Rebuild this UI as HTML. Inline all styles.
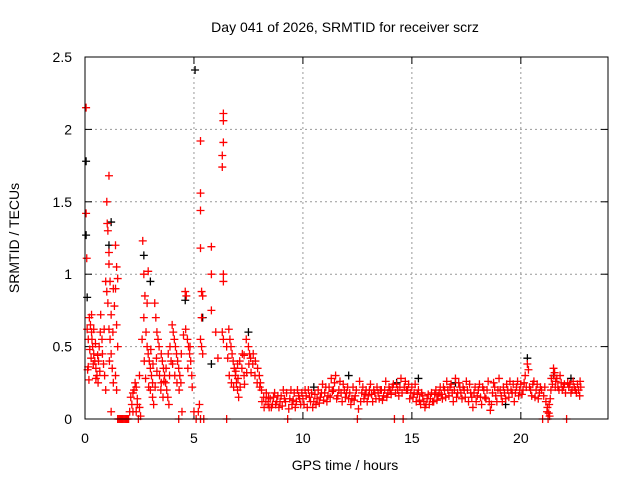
<!DOCTYPE html>
<html><head><meta charset="utf-8"><style>
body{margin:0;background:#fff;font-family:"Liberation Sans",sans-serif}
svg text{font-family:"Liberation Sans",sans-serif;font-size:14px;fill:#000}
</style></head><body>
<svg id="chart" width="640" height="480">
<text x="345" y="32" text-anchor="middle">Day 041 of 2026, SRMTID for receiver scrz</text>
<text x="345" y="470" text-anchor="middle">GPS time / hours</text>
<text transform="translate(19,238) rotate(-90)" text-anchor="middle">SRMTID / TECUs</text>
<g id="grid"></g><g id="ticks"></g><g id="marks"></g>
<rect x="85" y="57" width="523" height="362" fill="none" stroke="#000"/>
</svg>
<script>
const xTicks=[0,5,10,15,20];
const yTicks=[0,0.5,1,1.5,2,2.5];
const yTickLabels=["0","0.5","1","1.5","2","2.5"];
const blackPts=[[0.05,1.78],[0.05,1.27],[0.1,0.84],[1.1,1.2],[1.2,1.36],[2.7,1.13],[3.0,0.95],[4.6,0.82],[5.05,2.41],[5.4,0.7],[5.8,0.38],[7.5,0.6],[10.5,0.22],[12.1,0.3],[14.3,0.25],[15.3,0.28],[17.0,0.25],[19.3,0.1],[20.3,0.42],[21.5,0.3],[22.3,0.28]];
const redPts=[[0.05,2.15],[0.05,1.42],[0.08,1.11],[0.1,0.62],[0.12,0.34],[0.15,0.36],[0.2,0.7],[0.25,0.65],[0.3,0.6],[0.32,0.55],[0.35,0.5],[0.4,0.45],[0.45,0.4],[0.5,0.35],[0.55,0.3],[0.6,0.25],[0.65,0.5],[0.7,0.6],[0.72,0.72],[0.8,0.45],[0.85,0.38],[0.9,0.3],[0.95,0.2],[0.3,0.72],[0.4,0.62],[0.5,0.28],
[1.0,1.5],[1.02,1.35],[1.05,1.3],[1.1,1.15],[1.1,1.07],[1.15,0.95],[1.0,0.88],[1.05,0.8],[1.2,0.72],[1.1,0.62],[1.15,0.55],[1.2,0.45],[1.25,0.35],[1.3,0.25],[1.2,0.05],[1.1,1.68],[0.95,0.95],[1.3,0.9],
[1.4,1.2],[1.45,1.05],[1.5,0.97],[1.4,0.9],[1.45,0.65],[1.5,0.5],[1.4,0.3],[1.45,0.2],[1.5,0],[1.6,0],[1.7,0],[1.8,0],[1.9,0],[2.0,0],
[2.1,0.15],[2.15,0.1],[2.2,0.05],[2.25,0.2],[2.3,0.25],[2.35,0.05],[2.4,0.1],[2.45,0],[2.5,0.3],[2.55,0.02],[2.4,0.14],
[2.65,1.23],[2.7,1.0],[2.75,0.85],[2.7,0.7],[2.8,0.6],[2.85,0.5],[2.9,0.45],[2.95,0.4],[3.0,0.35],[3.05,0.3],[3.1,0.25],[3.0,0.2],[3.1,0.15],[3.15,0.1],[2.9,1.02],[2.85,0.8],
[3.2,0.8],[3.25,0.7],[3.3,0.6],[3.35,0.55],[3.4,0.5],[3.5,0.45],[3.55,0.4],[3.6,0.35],[3.65,0.3],[3.7,0.25],[3.75,0.2],[3.8,0.15],[3.85,0.1],[3.9,0.5],[3.95,0.4],[3.5,0.25],[3.3,0.33],
[4.0,0.65],[4.05,0.6],[4.1,0.55],[4.15,0.5],[4.2,0.45],[4.25,0.4],[4.3,0.35],[4.35,0.3],[4.4,0.25],[4.45,0.05],[4.3,0],
[4.6,0.88],[4.65,0.85],[4.7,0.55],[4.75,0.5],[4.8,0.45],[4.85,0.4],[4.9,0.3],
[5.3,1.92],[5.3,1.56],[5.3,1.44],[5.3,1.18],[5.35,0.88],[5.4,0.85],[5.35,0.7],[5.3,0.55],[5.35,0.5],[5.4,0.45],[5.25,0.1],[5.2,0.05],[5.1,0],[5.3,0],[5.45,0],[5.0,0.05],
[5.8,1.19],[5.8,1.0],[5.8,0.75],[6.0,0.6],[6.1,0.42],
[6.35,2.11],[6.35,2.06],[6.35,1.91],[6.3,1.82],[6.3,1.74],[6.35,1.0],[6.35,0.95],[6.3,0.6],[6.35,0.55],[6.5,0.5],[6.5,0],
[6.6,0.62],[6.65,0.55],[6.7,0.5],[6.75,0.45],[6.8,0.4],[6.85,0.35],[6.9,0.3],[6.95,0.25],[7.0,0.2],[7.05,0.15],[7.1,0.4],[7.2,0.35],[7.3,0.3],[7.4,0.55],[7.5,0.5],[7.55,0.45],[7.6,0.42],[7.7,0.38],[7.8,0.3],[7.9,0.25],[7.0,0.38],[7.3,0.44],
[8.0,0.3],[8.05,0.25],[8.1,0.2],[8.2,0.15],[8.3,0.12],[8.4,0.1],[8.45,0.08],
[8.5,0.14],[8.6,0.1],[8.7,0.18],[8.8,0.12],[8.9,0.08],[9.0,0.16],[9.1,0.2],[9.2,0.12],[9.3,0],[9.35,0.07],[9.4,0.14],[9.5,0.1],[9.6,0.18],[9.7,0.12],[9.8,0.16],[9.9,0.1],
[10.0,0.14],[10.1,0.2],[10.2,0.08],[10.3,0.15],[10.4,0.18],[10.5,0.12],[10.6,0.1],[10.7,0.2],[10.8,0.15],[10.9,0.24],[11.0,0.18],[11.1,0.12],[11.2,0.22],[11.3,0.28],[11.4,0.2],[11.5,0.3],[11.6,0.16],[11.7,0.26],[11.8,0.12],[11.9,0.2],
[12.0,0.18],[12.1,0.14],[12.2,0.1],[12.3,0.22],[12.4,0.16],[12.5,0],[12.55,0.07],[12.6,0.26],[12.7,0.18],[12.8,0.14],[12.9,0.2],[13.0,0.16],[13.1,0.24],[13.2,0.12],[13.3,0.18],[13.4,0.22],[13.5,0.14],[13.6,0.2],[13.7,0.16],[13.8,0.26],[13.9,0.18],
[14.0,0.2],[14.1,0.22],[14.2,0],[14.25,0.18],[14.3,0.24],[14.4,0.16],[14.5,0.28],[14.6,0],[14.65,0.22],[14.7,0.26],[14.8,0.2],[14.9,0.14],
[15.0,0.22],[15.1,0.18],[15.2,0.12],[15.3,0.2],[15.4,0.1],[15.5,0.16],[15.6,0.08],[15.7,0.14],[15.8,0.1],[15.9,0.18],
[16.0,0.12],[16.1,0.2],[16.2,0.16],[16.3,0.22],[16.4,0.14],[16.5,0.2],[16.6,0.26],[16.7,0.16],[16.8,0.24],[16.9,0.12],[17.0,0.28],[17.1,0.18],[17.2,0.22],[17.3,0.14],[17.4,0.2],[17.5,0.26],[17.6,0.12],[17.7,0.18],[17.8,0.08],[17.9,0.22],
[18.0,0.16],[18.1,0.24],[18.2,0.1],[18.3,0.2],[18.4,0.14],[18.5,0.26],[18.6,0.06],[18.7,0.18],[18.8,0.22],[18.9,0.12],[19.0,0.28],[19.1,0.16],[19.2,0.22],[19.3,0.14],[19.4,0.2],[19.5,0.26],[19.6,0.18],[19.7,0.12],[19.8,0.22],[19.9,0.16],
[20.0,0.24],[20.1,0.2],[20.2,0.3],[20.3,0.38],[20.35,0.34],[20.4,0.22],[20.5,0.16],[20.6,0.26],[20.7,0.2],[20.8,0.14],[20.9,0.22],[21.0,0],[21.05,0.16],[21.1,0.22],[21.2,0.05],[21.25,0],[21.3,0.1],[21.35,0.14],
[21.4,0.28],[21.5,0.35],[21.55,0.32],[21.6,0.26],[21.7,0.22],[21.8,0.3],[21.9,0.2],[22.0,0.24],[22.1,0],[22.2,0.22],[22.3,0.18],[22.4,0.26],[22.5,0.2],[22.6,0.24],[22.7,0.16],[22.75,0.22]];
const redPts2=[[0.15,0.55],[0.22,0.48],[0.28,0.42],[0.38,0.38],[0.48,0.52],[0.58,0.44],[0.68,0.33],[0.78,0.55],[0.88,0.62],[0.18,0.27],[0.62,0.4],[1.12,0.4],[1.28,0.6],[1.35,0.78],[1.55,0],[1.65,0],[1.75,0],[1.85,0],[1.95,0],[2.05,0.05],[2.2,0.18],[2.35,0.22],[2.5,0.08],
[2.62,0.55],[2.72,0.4],[2.78,0.28],[2.92,0.22],[3.02,0.48],[3.12,0.38],[3.22,0.22],[3.28,0.42],[3.42,0.3],[3.48,0.2],[3.58,0.15],[3.62,0.26],[3.72,0.35],[3.82,0.45],[3.88,0.3],[4.02,0.38],[4.12,0.3],[4.22,0.25],[4.32,0.2],[4.42,0.45],[4.52,0.58],[4.62,0.62],[4.72,0.35],[4.82,0.5],[4.92,0.22],
[6.55,0.42],[6.62,0.3],[6.72,0.25],[6.82,0.22],[6.92,0.33],[7.02,0.28],[7.12,0.22],[7.22,0.45],[7.32,0.24],[7.42,0.32],[7.52,0.38],[7.62,0.32],[7.72,0.45],[7.82,0.4],[7.92,0.35],[8.02,0.22],[8.12,0.12],[8.22,0.08],[8.32,0.18],[8.42,0.15],
[8.55,0.08],[8.65,0.15],[8.75,0.1],[8.85,0.16],[8.95,0.12],[9.05,0.09],[9.15,0.14],[9.25,0.18],[9.45,0.2],[9.55,0.13],[9.65,0.08],[9.75,0.2],[9.85,0.14],[9.95,0.18],[10.05,0.1],[10.15,0.16],[10.25,0.2],[10.35,0.12],[10.45,0.08],[10.55,0.17],[10.65,0.14],[10.75,0.11],[10.85,0.18],[10.95,0.13],[11.05,0.22],[11.15,0.16],[11.25,0.15],[11.35,0.19],[11.45,0.25],[11.55,0.14],[11.65,0.2],[11.75,0.18],[11.85,0.24],[11.95,0.15],
[12.05,0.22],[12.15,0.18],[12.25,0.14],[12.35,0.13],[12.45,0.2],[12.65,0.12],[12.75,0.22],[12.85,0.17],[12.95,0.12],[13.05,0.2],[13.15,0.17],[13.25,0.2],[13.35,0.14],[13.45,0.18],[13.55,0.2],[13.65,0.13],[13.75,0.2],[13.85,0.15],[13.95,0.22],[14.05,0.17],[14.15,0.24],[14.35,0.2],[14.45,0.22],[14.55,0.18],[14.75,0.2],[14.85,0.24],[14.95,0.18],
[15.05,0.15],[15.15,0.24],[15.25,0.17],[15.35,0.13],[15.45,0.18],[15.55,0.12],[15.65,0.1],[15.75,0.17],[15.85,0.14],[15.95,0.12],[16.05,0.17],[16.15,0.13],[16.25,0.18],[16.35,0.17],[16.45,0.22],[16.55,0.15],[16.65,0.2],[16.75,0.22],[16.85,0.18],[16.95,0.2],[17.05,0.15],[17.15,0.25],[17.25,0.18],[17.35,0.22],[17.45,0.15],[17.55,0.2],[17.65,0.24],[17.75,0.15],[17.85,0.18],[17.95,0.12],
[18.05,0.2],[18.15,0.15],[18.25,0.22],[18.35,0.15],[18.45,0.2],[18.55,0.12],[18.65,0.1],[18.75,0.25],[18.85,0.16],[18.95,0.2],[19.05,0.2],[19.15,0.12],[19.25,0.18],[19.35,0.24],[19.45,0.15],[19.55,0.2],[19.65,0.24],[19.75,0.18],[19.85,0.26],[19.95,0.2],[20.05,0.17],[20.15,0.25],[20.25,0.22],[20.45,0.2],[20.55,0.24],[20.65,0.15],[20.75,0.24],[20.85,0.18],[20.95,0.2],
[21.15,0.12],[21.22,0.08],[21.28,0.04],[21.32,0.02],[21.38,0.2],[21.45,0.24],[21.52,0.3],[21.58,0.22],[21.65,0.28],[21.75,0.2],[21.85,0.25],[21.95,0.22],[22.05,0.18],[22.15,0.25],[22.25,0.24],[22.35,0.2],[22.45,0.22],[22.55,0.18],[22.65,0.2],[22.72,0.26]];
const X=t=>85+t*523/24, Y=v=>419-v*362/2.5;
const NS="http://www.w3.org/2000/svg";
const grid=document.getElementById('grid'),ticks=document.getElementById('ticks'),marks=document.getElementById('marks');
function mk(tag,at,parent){const e=document.createElementNS(NS,tag);for(const k in at)e.setAttribute(k,at[k]);parent.appendChild(e);return e;}
xTicks.forEach(t=>{const x=X(t);
 if(t>0){const g=mk('line',{x1:x,y1:57,x2:x,y2:419,stroke:'#999','stroke-dasharray':'2,3'},grid);
 
 }
 mk('line',{x1:x,y1:419,x2:x,y2:412,stroke:'#000'},ticks);mk('line',{x1:x,y1:57,x2:x,y2:64,stroke:'#000'},ticks);
 const l=mk('text',{x:x,y:443,'text-anchor':'middle'},ticks);l.textContent=t;
 
 });
yTicks.forEach((v,i)=>{const y=Y(v);
 if(v>0&&v<2.5){const g=mk('line',{x1:85,y1:y,x2:608,y2:y,stroke:'#999','stroke-dasharray':'2,3'},grid);
 
 }
 mk('line',{x1:85,y1:y,x2:92,y2:y,stroke:'#000'},ticks);mk('line',{x1:608,y1:y,x2:601,y2:y,stroke:'#000'},ticks);
 const l=mk('text',{x:72,y:y+5,'text-anchor':'end'},ticks);l.textContent=yTickLabels[i];
 
 });
function plus(p,c,name){const x=X(p[0]),y=Y(p[1]);
 const e=mk('path',{d:`M${x-4},${y}H${x+4}M${x},${y-4}V${y+4}`,stroke:c,'stroke-width':1.3,fill:'none'},marks);
 
 }
blackPts.forEach(p=>plus(p,'#000','black-point'));
redPts.forEach(p=>plus(p,'#f00','red-point'));
redPts2.forEach(p=>plus(p,'#f00','red-point'));
</script>
</body></html>
